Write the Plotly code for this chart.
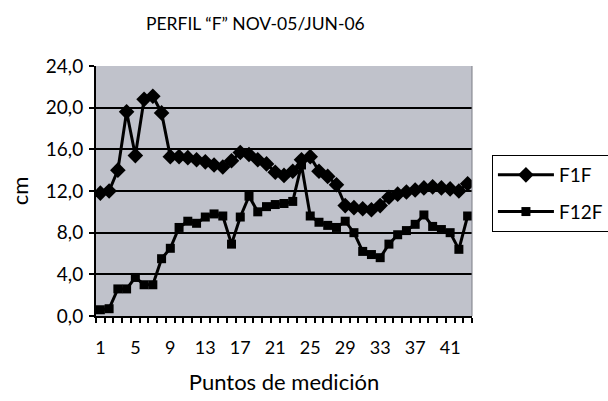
import plotly.graph_objects as go

puntos = list(range(1, 44))
f1f = [11.8, 12.0, 14.0, 19.6, 15.4, 20.8, 21.1, 19.5, 15.3, 15.3,
       15.2, 15.0, 14.8, 14.5, 14.3, 14.9, 15.7, 15.5, 15.0, 14.6,
       13.8, 13.5, 13.9, 15.0, 15.3, 13.9, 13.4, 12.6, 10.6, 10.4,
       10.3, 10.2, 10.6, 11.4, 11.7, 11.9, 12.1, 12.3, 12.4, 12.3,
       12.2, 12.0, 12.7]
f12f = [0.6, 0.7, 2.6, 2.6, 3.7, 3.0, 3.0, 5.5, 6.5, 8.5,
        9.1, 8.9, 9.5, 9.8, 9.6, 6.9, 9.5, 11.5, 10.0, 10.5,
        10.7, 10.8, 11.0, 14.5, 9.6, 9.0, 8.7, 8.5, 9.1, 8.0,
        6.2, 5.9, 5.6, 6.9, 7.8, 8.2, 8.8, 9.7, 8.6, 8.3,
        8.0, 6.4, 9.6]
series_names = ["F1F", "F12F"]
x_tickvals = [1, 5, 9, 13, 17, 21, 25, 29, 33, 37, 41]
y_tickvals = [0, 4, 8, 12, 16, 20, 24]
y_ticktext = ["0,0", "4,0", "8,0", "12,0", "16,0", "20,0", "24,0"]
title_text = "PERFIL \u201cF\u201d NOV-05/JUN-06"
x_title = "Puntos de medición"
y_title = "cm"

FONT = "Lato, Open Sans, sans-serif"

fig = go.Figure()
fig.add_trace(go.Scatter(
    x=puntos, y=f1f, name=series_names[0], mode="lines+markers",
    line=dict(color="black", width=3),
    marker=dict(symbol="diamond", size=12, color="black"),
    legendgroup="a",
))
fig.add_trace(go.Scatter(
    x=puntos, y=f12f, name=series_names[1], mode="lines+markers",
    line=dict(color="black", width=3),
    marker=dict(symbol="square", size=9, color="black"),
    legendgroup="b",
))

fig.update_layout(
    width=608, height=401,
    margin=dict(l=96, r=136, t=66, b=85, autoexpand=False),
    paper_bgcolor="white",
    plot_bgcolor="#c0c2cb",
    font=dict(family=FONT, size=18, color="black"),
    title=dict(text=title_text, x=0.42, xanchor="center", y=0.94, yanchor="middle",
               font=dict(family="Lato, sans-serif", size=17.5)),
    separators=",.",
    showlegend=True,
    legend=dict(x=1.053, xanchor="left", y=0.644, yanchor="top",
                bordercolor="black", borderwidth=1, bgcolor="white",
                font=dict(size=19), itemwidth=56, tracegroupgap=9,
                traceorder="grouped"),
)
fig.update_xaxes(
    range=[0.5, 43.5], tickvals=x_tickvals, ticks="", showgrid=False,
    showline=True, linecolor="black", linewidth=2, mirror=False,
    zeroline=False, automargin=False,
    minor=dict(tick0=0.5, dtick=1, ticks="outside", ticklen=5, tickwidth=2,
               tickcolor="black", showgrid=False),
    title=dict(text=x_title, standoff=18),
    ticklabelstandoff=14,
)
fig.update_yaxes(
    range=[0, 24], tickvals=y_tickvals, ticktext=y_ticktext,
    ticks="outside", ticklen=5, tickwidth=2, tickcolor="black",
    showgrid=True, gridcolor="black", gridwidth=2,
    showline=True, linecolor="black", linewidth=2,
    zeroline=False, automargin=False,
    title=dict(text=y_title, standoff=11),
    tickfont=dict(size=19),
    ticklabelstandoff=2,
)
fig.add_shape(type="line", xref="paper", yref="paper", x0=1, x1=1, y0=0, y1=1,
              line=dict(color="#7a7c84", width=1))

fig.write_html("out.html",
               config={"displayModeBar": False},
               post_script="document.body.style.margin='0';document.body.style.padding='0';")
